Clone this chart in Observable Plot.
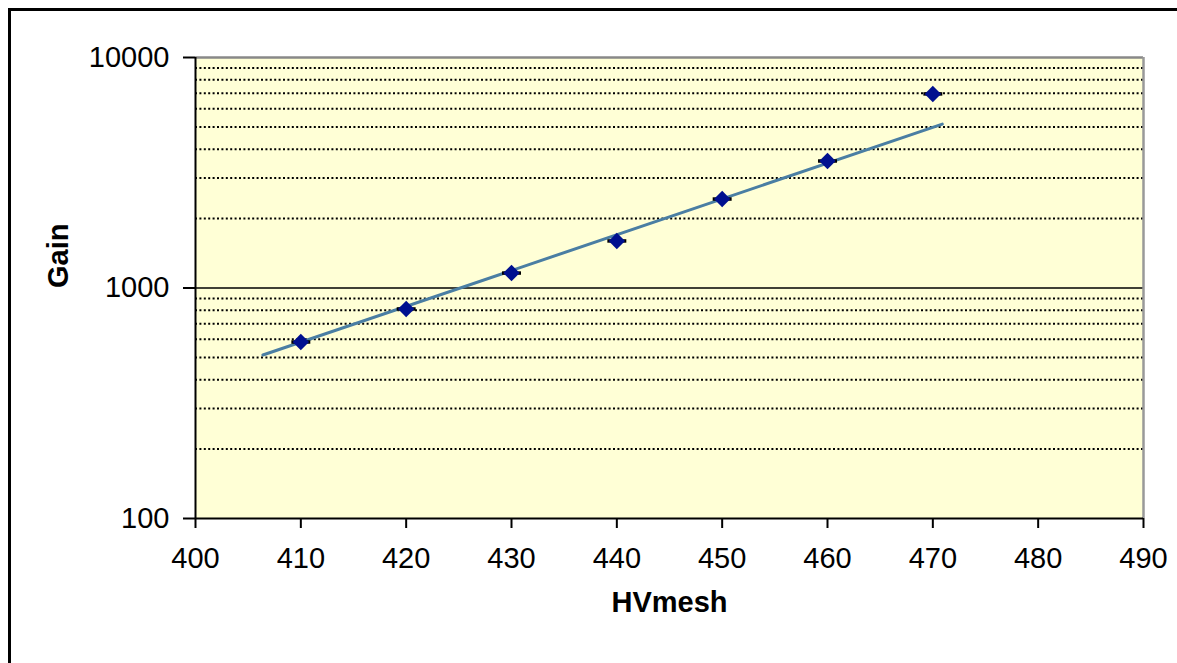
<!DOCTYPE html>
<html>
<head>
<meta charset="utf-8">
<script src="https://cdn.jsdelivr.net/npm/d3@7"></script>
<script src="https://cdn.jsdelivr.net/npm/@observablehq/plot@0.6"></script>
<style>
  html, body { margin: 0; padding: 0; background: white; overflow: hidden; }
  #wrap { position: relative; width: 1177px; height: 663px; }
  #outer { position: absolute; left: 8px; top: 8px; width: 1300px; height: 800px;
           border: 3px solid black; box-sizing: border-box; pointer-events: none; }
</style>
</head>
<body>
<div id="wrap"><div id="outer"></div></div>
<script>
// Data
const hvmesh = [410, 420, 430, 440, 450, 460, 470];
const gain   = [583, 811, 1161, 1600, 2432, 3556, 6950];
const errX   = [0.9, 0.9, 0.9, 0.9, 0.9, 0.9, 0.9];
// Exponential trendline endpoints (straight on log axis)
const trendX = [406.4, 470.9];
const trendY = [512, 5140];
// Axis ticks
const xTicks = [400, 410, 420, 430, 440, 450, 460, 470, 480, 490];
const yTicks = [100, 1000, 10000];
const yMinor = [200, 300, 400, 500, 600, 700, 800, 900, 2000, 3000, 4000, 5000, 6000, 7000, 8000, 9000];

const points = hvmesh.map((x, i) => ({x, y: gain[i], e: errX[i]}));
const trend = trendX.map((x, i) => ({x, y: trendY[i]}));

const chart = Plot.plot({
  width: 1177,
  height: 663,
  marginLeft: 195,
  marginRight: 34,
  marginTop: 57,
  marginBottom: 145,
  style: {fontFamily: "'Liberation Sans', Arial, sans-serif", fontSize: "29px", background: "transparent", color: "black"},
  x: {domain: [400, 490]},
  y: {type: "log", domain: [100, 10000]},
  marks: [
    Plot.frame({fill: "#ffffd6", stroke: "none"}),
    Plot.ruleY(yMinor, {stroke: "black", strokeWidth: 2, strokeDasharray: "2,2.4"}),
    Plot.ruleY([1000], {stroke: "black", strokeWidth: 1.6}),
    Plot.ruleY([10000], {stroke: "#888", strokeWidth: 2.5}),
    Plot.ruleX([490], {stroke: "#999", strokeWidth: 2.5}),
    Plot.ruleX([400], {stroke: "black", strokeWidth: 2}),
    Plot.ruleY([100], {stroke: "black", strokeWidth: 2}),
    Plot.line(trend, {x: "x", y: "y", stroke: "#4a7ea3", strokeWidth: 3}),
    Plot.link(points, {x1: d => d.x - d.e, x2: d => d.x + d.e, y1: "y", y2: "y", stroke: "black", strokeWidth: 3.5}),
    Plot.dot(points, {x: "x", y: "y", symbol: "diamond2", r: 7.4, fill: "#00108f", stroke: "none"}),
    Plot.axisY({ticks: yTicks, tickSize: 12, tickPadding: 14, tickFormat: d3.format("d"), label: null, fontSize: 29, strokeWidth: 2}),
    Plot.axisX({ticks: xTicks, tickSize: 10, tickPadding: 19, tickFormat: d3.format("d"), label: null, fontSize: 29, strokeWidth: 2}),
    Plot.text(["HVmesh"], {frameAnchor: "bottom", dy: 93, text: d => d, fontWeight: "bold", fontSize: 29}),
    Plot.text(["Gain"], {frameAnchor: "left", dx: -137, rotate: -90, text: d => d, fontWeight: "bold", fontSize: 29})
  ]
});
document.getElementById("wrap").prepend(chart);
</script>
</body>
</html>
